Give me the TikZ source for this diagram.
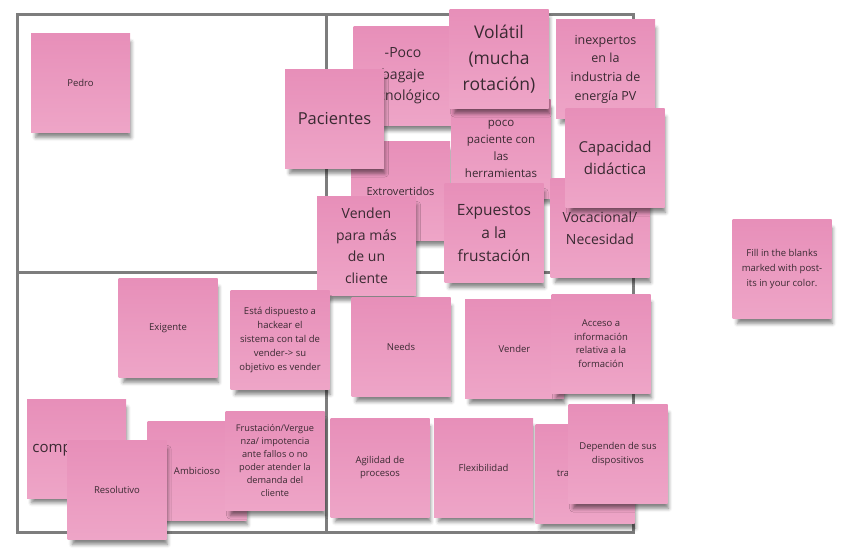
\documentclass[tikz,border=0pt]{standalone}
\usepackage{fontspec}
\setmainfont{Open Sans}
\usetikzlibrary{shadows.blur}
\definecolor{postittop}{RGB}{231,143,185}
\definecolor{postitbot}{RGB}{238,165,199}
\definecolor{inkgray}{RGB}{58,42,50}
\definecolor{framegray}{RGB}{125,125,125}

\begin{document}
\begin{tikzpicture}[x=1pt,y=-1pt,
  postit/.style={minimum width=99pt,minimum height=99pt,inner sep=0pt,
    align=center,text=inkgray,top color=postittop,bottom color=postitbot,
    blur shadow={shadow xshift=3pt,shadow yshift=-7pt,shadow scale=0.96,
      shadow blur radius=4pt,shadow opacity=50}},
  txtsm/.style={font=\fontsize{9.5}{13.5}\selectfont},
  txtmd/.style={font=\fontsize{11.5}{17}\selectfont},
  txtlg/.style={font=\fontsize{14}{21.5}\selectfont},
  txtxl/.style={font=\fontsize{16.5}{25}\selectfont}]
 \useasboundingbox (0,0) rectangle (849,556);

 % the four quadrants
 \draw[framegray,line width=3pt] (17,15) rectangle (633,532);
 \draw[framegray,line width=3pt] (326,15) -- (326,532);
 \draw[framegray,line width=3pt] (17,273) -- (633,273);

 % upper left
 \node[postit,txtsm] (pedro) at (80.5,83) {Pedro};

 % upper right
 \node[postit,txtlg] (bagaje) at (403,76) {-Poco\\bagaje\\tecnológico};
 \node[postit,txtsm,font=\fontsize{11}{14}\selectfont] (extro) at (400.5,191) {Extrovertidos};
 \node[postit,txtxl] (pacientes) at (334.5,119) {Pacientes};
 \node[postit,txtmd] (pocopac) at (501,149) {poco\\paciente con\\las\\herramientas};
 \node[postit,txtxl,font=\fontsize{17.5}{26}\selectfont] (volatil) at (499,59) {Volátil\\(mucha\\rotación)};
 \node[postit,txtmd,font=\fontsize{12.5}{18.7}\selectfont] (inexp) at (605.5,69) {inexpertos\\en la\\industria de\\energía PV};
 \node[postit,txtlg] (vocac) at (600,228) {Vocacional/\\Necesidad};
 \node[postit,txtlg,font=\fontsize{15}{22}\selectfont] (capac) at (615,158) {Capacidad\\didáctica};
 \node[postit,txtlg] (venden) at (366.5,246) {Venden\\para más\\de un\\cliente};
 \node[postit,txtxl,font=\fontsize{15.5}{23}\selectfont] (expuestos) at (494,233) {Expuestos\\a la\\frustación};

 % lower left
 \node[postit,txtsm] (exigente) at (168,328) {Exigente};
 \node[postit,txtsm,font=\fontsize{9.5}{14}\selectfont] (hackear) at (280,340)
   {Está dispuesto a\\hackear el\\sistema con tal de\\vender-> su\\objetivo es vender};
 \node[postit,txtxl,font=\fontsize{15}{22}\selectfont] (compro) at (76.5,448.5) {compromiso};
 \node[postit,txtsm] (ambicioso) at (197,470.5) {Ambicioso};
 \node[postit,txtsm] (resolutivo) at (117,490) {Resolutivo};
 \node[postit,txtsm,font=\fontsize{9.2}{13}\selectfont] (verguenza) at (275,461)
   {Frustación/Vergue\\nza/ impotencia\\ante fallos o no\\poder atender la\\demanda del\\cliente};

 % lower right
 \node[postit,txtsm] (needs) at (401,347) {Needs};
 \node[postit,txtsm] (vender) at (514.5,349) {Vender};
 \node[postit,txtsm] (acceso) at (601,343.5) {Acceso a\\información\\relativa a la\\formación};
 \node[postit,txtsm] (agilidad) at (380,467.5) {Agilidad de\\procesos};
 \node[postit,txtsm] (flexi) at (483.5,467.5) {Flexibilidad};
 \node[postit,txtsm] (trabaj) at (585,474) {trabajadores};
 \node[postit,txtsm] (dispos) at (618,454) {Dependen de sus\\dispositivos};

 % instructions
 \node[postit,txtsm,font=\fontsize{9.5}{15}\selectfont] (fillin) at (782,269)
   {Fill in the blanks\\marked with post-\\its in your color.};
\end{tikzpicture}
\end{document}
